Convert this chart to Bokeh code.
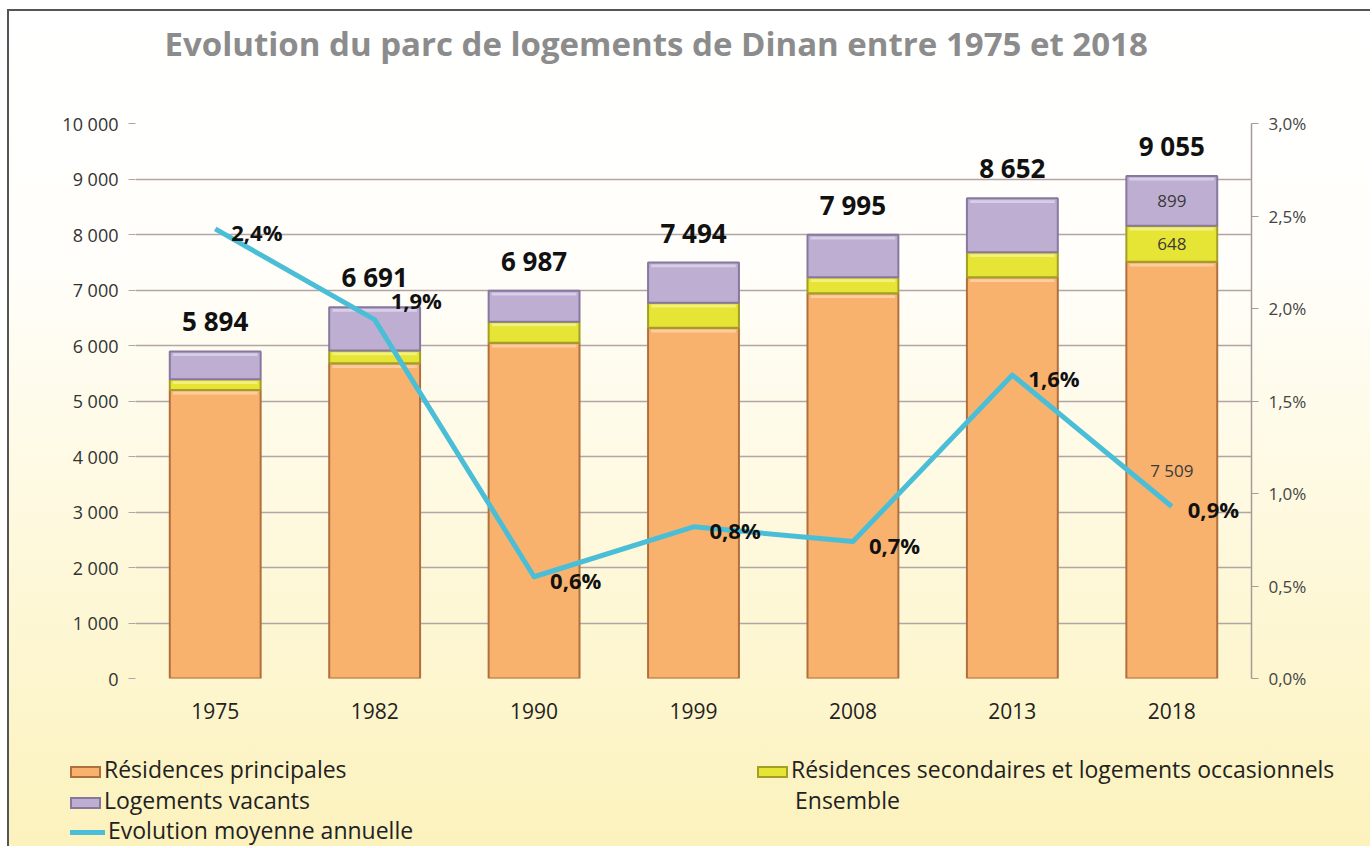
from bokeh.plotting import figure
from bokeh.layouts import column
from bokeh.models import (FactorRange, Range1d, LinearAxis, CustomJSTickFormatter, Div,
                          ColumnDataSource, SingleIntervalTicker, Title)
from bokeh.core.properties import value
from bokeh.embed import file_html
from bokeh.resources import INLINE

# ---------------- data ----------------
years = ["1975", "1982", "1990", "1999", "2008", "2013", "2018"]
principales = [5200, 5680, 6050, 6320, 6940, 7230, 7509]
secondaires = [190, 230, 380, 450, 290, 450, 648]
vacants = [504, 781, 557, 724, 765, 972, 899]
ensemble = [5894, 6691, 6987, 7494, 7995, 8652, 9055]
evolution = [0.0243, 0.0194, 0.0055, 0.0082, 0.0074, 0.0164, 0.0093]
evolution_labels = ["2,4%", "1,9%", "0,6%", "0,8%", "0,7%", "1,6%", "0,9%"]

series_names = ["Résidences principales",
                "Résidences secondaires et logements occasionnels",
                "Logements vacants"]

FONT = value("Open Sans")


def fmt(v):
    return f"{v:,}".replace(",", " ")


ORANGE, ORANGE_L, ORANGE_H = "#F8B26E", "#B0703E", "#FCD2A8"
YELLOW, YELLOW_L, YELLOW_H = "#E6E434", "#A29E26", "#F4F290"
PURPLE, PURPLE_L, PURPLE_H = "#BEAFD2", "#86789E", "#DDD3EA"
BLUE = "#4BBED7"
GRID = "#B3A5A5"

cum1 = principales
cum2 = [a + b for a, b in zip(principales, secondaires)]
cum3 = [a + b + c for a, b, c in zip(principales, secondaires, vacants)]

src = ColumnDataSource(dict(
    year=years, principales=principales, secondaires=secondaires, vacants=vacants,
    ensemble=ensemble, evolution=evolution, evo_label=evolution_labels,
    tot_label=[fmt(v) for v in ensemble],
    dy=[-20 if y == "1982" else 3 for y in years],
))

W = 1361
H = 724
p = figure(width=W, height=H, x_range=FactorRange(*years), y_range=Range1d(0, 10000),
           output_backend="svg", toolbar_location=None,
           min_border_left=126, min_border_right=119, min_border_top=112, min_border_bottom=57)
p.extra_y_ranges = {"pct": Range1d(0, 0.03)}

p.background_fill_color = None
p.border_fill_color = None
p.outline_line_color = None

# spacer between title and frame (above panels stack outward from the frame)
p.add_layout(Title(text=" ", text_font_size="1px", standoff=50), "above")

# title
p.title.text = "Evolution du parc de logements de Dinan entre 1975 et 2018"
p.title.align = "left"
p.title.offset = 29
p.title.standoff = 10
p.title.text_font = "Open Sans"
p.title.text_font_size = "33px"
p.title.text_font_style = "bold"
p.title.text_color = "#8C8C8C"

# bars
bars = p.vbar_stack(["principales", "secondaires", "vacants"], x="year", width=0.57, source=src,
                    fill_color=[ORANGE, YELLOW, PURPLE], line_color=[ORANGE_L, YELLOW_L, PURPLE_L],
                    line_width=2)
# bevel highlights near the top of each segment
for tops, col in ((cum1, ORANGE_H), (cum2, YELLOW_H), (cum3, PURPLE_H)):
    p.vbar(x=years, top=[t - 35 for t in tops], bottom=[t - 85 for t in tops], width=0.53,
           fill_color=col, line_color=None, fill_alpha=0.85)

# totals above bars
p.text(x="year", y="ensemble", text="tot_label", source=src, text_align="center",
       text_baseline="bottom", y_offset=-12, text_font=FONT, text_font_size="26px",
       text_font_style="bold", text_color="#111111")

# segment labels for the last year
last = len(years) - 1
seg_src = ColumnDataSource(dict(
    x=[years[last]] * 3,
    y=[principales[last] / 2,
       principales[last] + secondaires[last] / 2,
       principales[last] + secondaires[last] + vacants[last] / 2],
    t=[fmt(principales[last]), fmt(secondaires[last]), fmt(vacants[last])],
))
p.text(x="x", y="y", text="t", source=seg_src, text_align="center", text_baseline="middle",
       text_font=FONT, text_font_size="17px", text_color="#3a3a3a")

# evolution line
p.line(x="year", y="evolution", source=src, y_range_name="pct",
       line_color=BLUE, line_width=5, line_join="round")
p.text(x="year", y="evolution", text="evo_label", source=src, y_range_name="pct",
       x_offset=16, y_offset="dy", text_align="left", text_baseline="middle",
       text_font=FONT, text_font_size="22px", text_font_style="bold", text_color="#111111")

# axes
ya = p.yaxis[0]
ya.ticker = SingleIntervalTicker(interval=1000, num_minor_ticks=0)
ya.formatter = CustomJSTickFormatter(code="return tick.toString().replace(/\\B(?=(\\d{3})+(?!\\d))/g, ' ');")
ya.axis_line_color = None
ya.major_tick_line_color = GRID
ya.major_tick_out = 7
ya.major_tick_in = 0
ya.minor_tick_line_color = None
ya.major_label_standoff = 10
ya.major_label_text_font = "Open Sans"
ya.major_label_text_font_size = "18px"
ya.major_label_text_color = "#333333"

ra = LinearAxis(y_range_name="pct", ticker=SingleIntervalTicker(interval=0.005, num_minor_ticks=0),
                formatter=CustomJSTickFormatter(code="return (tick*100).toFixed(1).replace('.', ',') + '%';"))
ra.axis_line_color = "#A89A9A"
ra.axis_line_width = 1.5
ra.major_tick_line_color = "#A89A9A"
ra.major_tick_out = 7
ra.major_tick_in = 0
ra.minor_tick_line_color = None
ra.major_label_standoff = 10
ra.major_label_text_font = "Open Sans"
ra.major_label_text_font_size = "17px"
ra.major_label_text_color = "#444444"
p.add_layout(ra, "right")

xa = p.xaxis[0]
xa.axis_line_color = None
xa.major_tick_line_color = None
xa.major_tick_out = 0
xa.major_label_standoff = 24
xa.major_label_text_font = "Open Sans"
xa.major_label_text_font_size = "21px"
xa.major_label_text_color = "#222222"

p.ygrid.grid_line_color = GRID
p.ygrid.grid_line_width = 1.5
p.xgrid.grid_line_color = None

# ---------------- legend (HTML strip below the chart) ----------------
def swatch(fill, line, h=12):
    return (f'<span style="display:inline-block;width:31px;height:{h}px;background:{fill};'
            f'border:2px solid {line};vertical-align:middle;margin-right:3px;"></span>')


def line_swatch(color):
    return (f'<span style="display:inline-block;width:35px;height:5px;background:{color};'
            f'vertical-align:middle;margin-right:3px;"></span>')


def blank_swatch():
    return '<span style="display:inline-block;width:35px;height:12px;margin-right:3px;"></span>'


def item(left, top, sw, label):
    return (f'<div style="position:absolute;left:{left}px;top:{top}px;white-space:nowrap;'
            f'line-height:30px;">{sw}{label}</div>')


legend_html = (
    '<div style="position:relative;width:100%;height:100%;font-family:\'Open Sans\';'
    'font-size:23px;color:#222222;">'
    + item(61, 7, swatch(ORANGE, ORANGE_L), series_names[0])
    + item(61, 38, swatch(PURPLE, PURPLE_L), series_names[2])
    + item(61, 68, line_swatch(BLUE), "Evolution moyenne annuelle")
    + item(748, 7, swatch(YELLOW, YELLOW_L), series_names[1])
    + item(748, 38, blank_swatch(), "Ensemble")
    + '</div>'
)
legend_div = Div(text=legend_html, width=W, height=111, styles={"margin": "0", "padding": "0"})

layout = column(p, legend_div, spacing=0, styles={
    "background": "linear-gradient(180deg, #ffffff 0%, #fffefa 30%, #fef9df 60%, #fcf2bd 100%)",
    "border-top": "2px solid #555555",
    "border-left": "2px solid #555555",
    "margin-left": "7px",
    "margin-top": "9px",
})

open("out.html", "w").write(file_html(layout, INLINE))
